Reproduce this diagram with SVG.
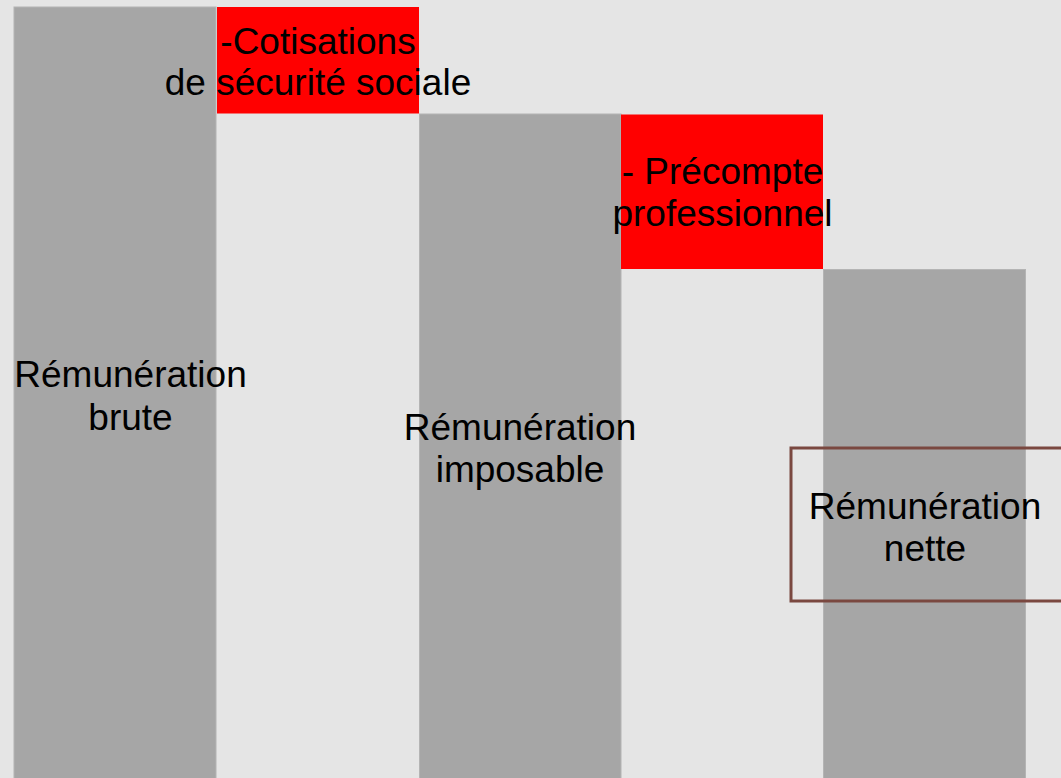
<svg xmlns="http://www.w3.org/2000/svg" width="1061" height="778" viewBox="0 0 1061 778">
<style>
.bar{fill:#a6a6a6;stroke:#b4b4b4;stroke-width:1}
.red{fill:#ff0000}
.lbl{font-family:"Liberation Sans",Arial,sans-serif;font-size:37px;fill:#000;text-anchor:middle}
.frame{fill:none;stroke:#7a4840;stroke-width:3}
</style>
<rect x="0" y="0" width="1061" height="778" fill="#e5e5e5"/>
<g id="brute">
<rect class="bar" x="14" y="7" width="202" height="772"/>
<text class="lbl" x="130.5" y="387">Rémunération</text>
<text class="lbl" x="130.5" y="429.5">brute</text>
</g>
<g id="cotisations">
<rect class="red" x="217" y="7" width="202" height="106.5"/>
<text class="lbl" x="318" y="53.5">-Cotisations</text>
<text class="lbl" x="318" y="95">de sécurité sociale</text>
</g>
<g id="imposable">
<rect class="bar" x="419.5" y="114" width="201.5" height="665"/>
<text class="lbl" x="520" y="439.5">Rémunération</text>
<text class="lbl" x="520" y="482">imposable</text>
</g>
<g id="precompte">
<rect class="red" x="621" y="114.5" width="202" height="154.5"/>
<text class="lbl" x="722.5" y="183.5">- Précompte</text>
<text class="lbl" x="722.5" y="225.5">professionnel</text>
</g>
<g id="nette">
<rect class="bar" x="823.5" y="269.5" width="202" height="510"/>
<text class="lbl" x="925" y="518.5">Rémunération</text>
<text class="lbl" x="925" y="561">nette</text>
<rect class="frame" x="791" y="448" width="272" height="153"/>
</g>
<g id="connectors"></g>
</svg>
